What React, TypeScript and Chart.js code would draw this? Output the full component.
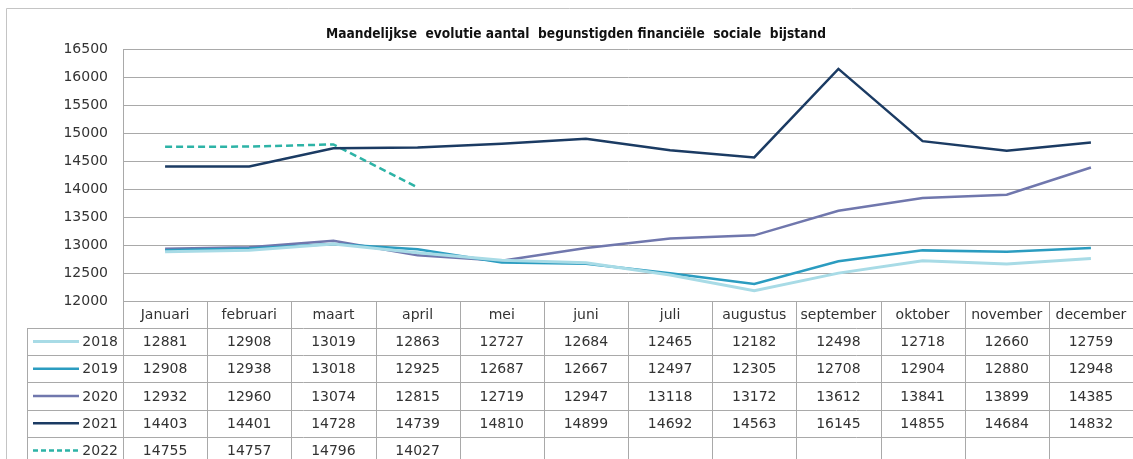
import React, { useEffect, useRef } from "react";
import { Chart, registerables } from "chart.js";

Chart.register(...registerables);

const TITLE = "Maandelijkse  evolutie aantal  begunstigden financiële  sociale  bijstand";
const MONTHS = ["Januari", "februari", "maart", "april", "mei", "juni", "juli", "augustus", "september", "oktober", "november", "december"];
const YEARS = ["2018", "2019", "2020", "2021", "2022"];
const V2018 = [12881, 12908, 13019, 12863, 12727, 12684, 12465, 12182, 12498, 12718, 12660, 12759];
const V2019 = [12908, 12938, 13018, 12925, 12687, 12667, 12497, 12305, 12708, 12904, 12880, 12948];
const V2020 = [12932, 12960, 13074, 12815, 12719, 12947, 13118, 13172, 13612, 13841, 13899, 14385];
const V2021 = [14403, 14401, 14728, 14739, 14810, 14899, 14692, 14563, 16145, 14855, 14684, 14832];
const V2022 = [14755, 14757, 14796, 14027, null, null, null, null, null, null, null, null];
const SERIES = [V2018, V2019, V2020, V2021, V2022];
const COLORS = ["#a8dbe6", "#2b9cc0", "#7077ad", "#1b3b63", "#2db3a6"];
const WIDTHS = [3, 2.5, 2.5, 2.5, 2.5];
const DASHES: number[][] = [[], [], [], [], [7, 4]];
const Y_MIN = 12000;
const Y_MAX = 16500;
const Y_STEP = 500;

const GRID = "#a9a9a9";
const TEXT = "#333333";
const FONT = "'DejaVu Sans', sans-serif";

const tablePlugin = {
  id: "tablePlugin",
  beforeDraw(chart: any) {
    const ctx = chart.ctx;
    ctx.save();
    ctx.fillStyle = "#ffffff";
    ctx.fillRect(0, 0, chart.width, chart.height);
    ctx.strokeStyle = "#c4c4c4";
    ctx.lineWidth = 1;
    ctx.beginPath();
    ctx.moveTo(6.5, chart.height);
    ctx.lineTo(6.5, 8.5);
    ctx.lineTo(chart.width, 8.5);
    ctx.stroke();
    // title
    ctx.fillStyle = "#111111";
    ctx.font = "bold 14px " + FONT;
    ctx.textBaseline = "middle";
    ctx.textAlign = "center";
    const w = ctx.measureText(TITLE).width;
    ctx.translate(576, 34);
    ctx.scale(500 / w, 1);
    ctx.fillText(TITLE, 0, 0);
    ctx.restore();
  },
  afterDraw(chart: any) {
    const ctx = chart.ctx;
    const x = chart.scales.x;
    const area = chart.chartArea;
    const colW = x.getPixelForValue(1) - x.getPixelForValue(0);
    const top = area.bottom;
    const headH = 27;
    const rowH = 27.2;
    const legendLeft = 27;
    ctx.save();
    ctx.strokeStyle = GRID;
    ctx.lineWidth = 1;
    ctx.beginPath();
    const r = (v: number) => Math.round(v) + 0.5;
    ctx.moveTo(legendLeft, r(top + headH));
    ctx.lineTo(chart.width, r(top + headH));
    for (let i = 0; i <= MONTHS.length; i++) {
      const px = r(x.getPixelForValue(0) - colW / 2 + i * colW);
      ctx.moveTo(px, top);
      ctx.lineTo(px, chart.height);
    }
    ctx.moveTo(r(legendLeft), r(top + headH));
    ctx.lineTo(r(legendLeft), chart.height);
    for (let j = 1; j <= YEARS.length; j++) {
      const py = r(top + headH + j * rowH);
      ctx.moveTo(legendLeft, py);
      ctx.lineTo(chart.width, py);
    }
    ctx.stroke();

    ctx.fillStyle = TEXT;
    ctx.font = "14px " + FONT;
    ctx.textBaseline = "middle";
    ctx.textAlign = "center";
    MONTHS.forEach((m, i) => {
      ctx.fillText(m, x.getPixelForValue(i), top + headH / 2 + 1);
    });
    YEARS.forEach((yr, j) => {
      const cy = top + headH + j * rowH + rowH / 2 + 1;
      ctx.save();
      ctx.strokeStyle = COLORS[j];
      ctx.lineWidth = WIDTHS[j];
      ctx.setLineDash(DASHES[j].length ? [5, 3] : []);
      ctx.beginPath();
      ctx.moveTo(33, cy - 1);
      ctx.lineTo(79, cy - 1);
      ctx.stroke();
      ctx.restore();
      ctx.textAlign = "right";
      ctx.fillText(yr, 118, cy);
      ctx.textAlign = "center";
      SERIES[j].forEach((v, i) => {
        if (v !== null) ctx.fillText(String(v), x.getPixelForValue(i), cy);
      });
    });
    ctx.restore();
  },
};

export default function App() {
  const ref = useRef<HTMLCanvasElement | null>(null);
  useEffect(() => {
    document.body.style.margin = "0";
    const canvas = ref.current;
    if (!canvas) return;
    const chart = new Chart(canvas, {
      type: "line",
      data: {
        labels: MONTHS,
        datasets: YEARS.map((yr, j) => ({
          label: yr,
          data: SERIES[j],
          borderColor: COLORS[j],
          backgroundColor: COLORS[j],
          borderWidth: WIDTHS[j],
          borderDash: DASHES[j],
          pointRadius: 0,
          tension: 0,
          fill: false,
          spanGaps: false,
        })),
      },
      options: {
        responsive: false,
        animation: false,
        layout: { padding: { top: 49, bottom: 158, left: 0, right: 0 } },
        plugins: {
          legend: { display: false },
          title: { display: false },
          tooltip: { enabled: false },
        },
        scales: {
          x: {
            type: "category",
            display: false,
            offset: true,
          },
          y: {
            min: Y_MIN,
            max: Y_MAX,
            afterFit: (scale: any) => {
              scale.width = 123;
            },
            ticks: {
              stepSize: Y_STEP,
              padding: 15,
              color: TEXT,
              font: { family: FONT, size: 14 },
              callback: (v: any) => String(v),
            },
            grid: { color: GRID, drawTicks: false, lineWidth: 1 },
            border: { display: true, color: GRID },
          },
        },
      },
      plugins: [tablePlugin],
    } as any);
    return () => chart.destroy();
  }, []);
  return (
    <div style={{ width: 1133, height: 459 }}>
      <canvas ref={ref} width={1133} height={459} style={{ display: "block" }} />
    </div>
  );
}
